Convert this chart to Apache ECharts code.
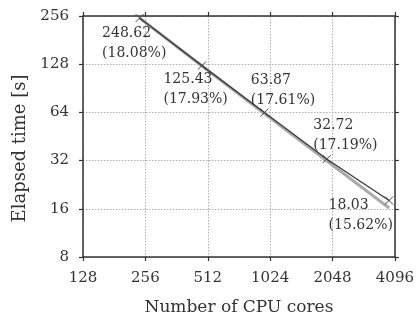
<!DOCTYPE html>
<html>
<head>
<meta charset="utf-8">
<script src="https://cdn.jsdelivr.net/npm/echarts@6/dist/echarts.min.js"></script>
<style>
  html, body { margin: 0; padding: 0; background: #fff; }
  #chart { width: 417px; height: 321px; }
</style>
</head>
<body>
<div id="chart"></div>
<script>
// Strong-scaling run: core counts, measured time, ideal time, efficiency
const cores = [240, 480, 960, 1920, 3840];
const elapsed = [248.62, 125.43, 63.87, 32.72, 18.03];
const ideal = [248.62, 124.8, 63.0, 31.9, 16.2];
const efficiency = ['18.08%', '17.93%', '17.61%', '17.19%', '15.62%'];
const xTicks = [128, 256, 512, 1024, 2048, 4096];
const yTicks = [8, 16, 32, 64, 128, 256];

// where each value label sits relative to its marker box
const labelPlacement = [[-33, 10], [-34, 8], [-9, -38], [-9, -39], [-56, -1]];

const FONT = 'DejaVu Serif';
const INK = '#333';

const measured = cores.map((c, i) => ({
  value: [c, elapsed[i]],
  label: {
    show: true,
    position: labelPlacement[i],
    formatter: elapsed[i].toFixed(2) + '\n(' + efficiency[i] + ')'
  }
}));
const idealPts = cores.map((c, i) => [c, ideal[i]]);

function logAxis(pos, ticks, showLabels, extra) {
  return Object.assign({
    type: 'log',
    logBase: 2,
    position: pos,
    min: ticks[0],
    max: ticks[ticks.length - 1],
    interval: 1,
    axisLine: { show: true, lineStyle: { color: INK, width: 1.5 } },
    axisTick: { show: true, inside: false, length: 4, lineStyle: { color: INK, width: 1.2 } },
    axisLabel: {
      show: showLabels,
      fontFamily: FONT,
      fontSize: 15,
      color: INK,
      formatter: v => String(Math.round(v))
    },
    splitLine: { show: false },
    minorTick: { show: false }
  }, extra || {});
}

const chart = echarts.init(document.getElementById('chart'), null, { renderer: 'canvas' });
chart.setOption({
  animation: false,
  backgroundColor: '#fff',
  grid: { left: 83, right: 19, top: 16, bottom: 62, containLabel: false },
  xAxis: [
    logAxis('bottom', xTicks, true, {
      name: 'Number of CPU cores',
      nameLocation: 'middle',
      nameGap: 42,
      nameTextStyle: { fontFamily: FONT, fontSize: 17, color: INK },
      axisLabel: {
        show: true, fontFamily: FONT, fontSize: 15, color: INK, margin: 14,
        formatter: v => String(Math.round(v))
      },
      splitLine: { show: true, lineStyle: { color: '#b0b0b0', type: [1.5, 1.5], width: 1 } }
    }),
    logAxis('top', xTicks, false)
  ],
  yAxis: [
    logAxis('left', yTicks, true, {
      name: 'Elapsed time [s]',
      nameLocation: 'middle',
      nameGap: 52,
      nameTextStyle: { fontFamily: FONT, fontSize: 18, color: INK, padding: [0, 24, 0, 0] },
      axisLabel: {
        show: true, fontFamily: FONT, fontSize: 15, color: INK, margin: 14,
        formatter: v => String(Math.round(v))
      },
      splitLine: { show: true, lineStyle: { color: '#b0b0b0', type: [1.5, 1.5], width: 1 } }
    }),
    logAxis('right', yTicks, false)
  ],
  series: [
    {
      name: 'ideal',
      type: 'line',
      data: idealPts,
      symbol: 'none',
      lineStyle: { color: '#aaa', width: 3 },
      z: 2,
      silent: true
    },
    {
      name: 'measured',
      type: 'line',
      data: measured,
      symbol: 'path://M0,0L10,10M10,0L0,10',
      symbolSize: 8,
      itemStyle: { color: 'rgba(0,0,0,0)', borderColor: '#444', borderWidth: 1 },
      lineStyle: { color: '#3a3a3a', width: 1.3 },
      label: {
        fontFamily: FONT,
        fontSize: 14,
        lineHeight: 20,
        color: INK,
        align: 'left',
        verticalAlign: 'top'
      },
      z: 3,
      silent: true
    }
  ]
});
</script>
</body>
</html>
